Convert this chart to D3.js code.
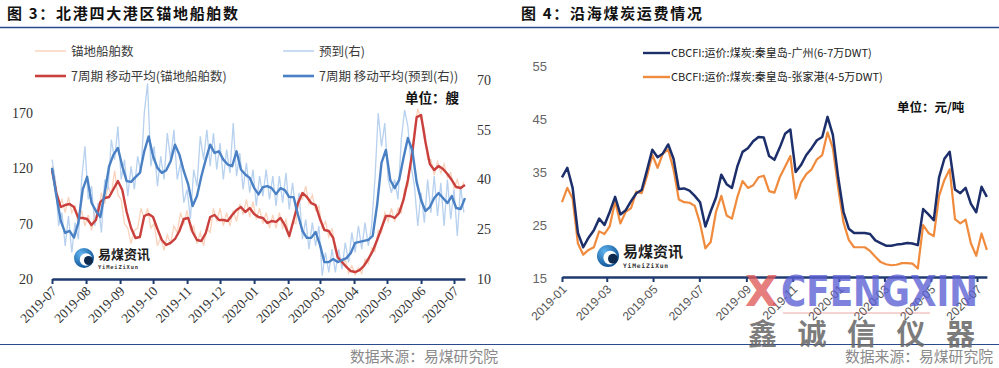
<!DOCTYPE html>
<html><head><meta charset="utf-8">
<script src="https://cdn.jsdelivr.net/npm/d3@7/dist/d3.min.js"></script>
<style>body{margin:0;background:#fff}svg{display:block}</style>
</head><body>
<svg id="c" width="999" height="368"></svg>
<script>
// ---------------- DATA: left chart (图3) ----------------
const leftStart = "2019-07-01";
const rawStepDays = 3;
const maStepDays = 4;
// 锚地船舶数 (left axis), every 3 days
const anchorRaw = [122,108,84,92,80,94,80,86,68,82,
68,78,64,80,80,98,88,104,96,118,
96,92,70,66,52,64,66,84,74,84,
66,70,50,58,46,60,52,68,62,80,
70,82,64,68,52,62,50,66,62,84,
72,84,68,80,68,82,72,88,78,92,
76,90,74,84,70,80,66,78,66,80,
66,74,56,72,70,94,92,104,88,96,
82,86,66,72,58,66,46,44,32,38,
25,32,24,30,25,38,34,48,45,64,
62,80,72,84,72,84,80,102,104,128,
156,174,164,156,128,128,114,126,116,124,
112,116,102,110,98,108];
// 预到 (right axis), every 3 days
const arrivalRaw = [46,40,26,30,20,29,18,27,22,40,
50,34,38,26,33,24,40,37,52,46,
56,40,46,35,44,37,47,42,60,69,
44,50,38,47,40,54,46,55,40,45,
33,37,28,43,38,53,46,55,44,54,
43,51,40,49,42,57,41,48,37,45,
36,43,32,41,35,43,34,41,32,41,
33,42,31,39,30,36,22,28,19,27,
20,26,11,18,12,19,12,19,13,21,
15,24,18,26,19,27,20,26,40,60,
50,57,40,36,40,34,52,61,56,44,
38,26,36,27,40,30,41,29,39,26,
40,28,37,23,38,30];
// 7周期 移动平均(锚地船舶数), every 4 days
const anchorMA = [118.6,97.8,85.1,86.9,87.8,85.1,75.2,75.2,74.3,68.8,
73.4,89.6,93.3,94.2,101.4,108.6,100.5,80.6,66.1,57.1,
58,77,78.8,76.1,65.2,55.3,50.8,52.6,56.2,63.4,
74.3,75.2,62.5,55.3,54.4,61.6,76.1,77.9,73.4,73.4,
72.5,77.9,82.4,85.1,80.6,84.2,78.8,76.1,75.2,70.6,
72.5,71.6,75.2,68.8,58.9,73.4,88.7,97.8,94.2,88.7,
86.9,74.3,64.3,63.4,57.1,39.9,35.4,30.9,27.2,26.3,
28.1,31.8,38.1,45.3,55.3,66.1,77,77,75.2,79.7,
91.5,109.5,134,166.5,168.3,143.9,124,118.6,122.2,119.5,
115,109.5,103.2,102.3,105];
// 7周期 移动平均(预到(右)), every 4 days
const arrivalMA = [43.5,35,27.5,23.9,24.5,22.5,27,37,40.8,33,
30.5,28.7,36,44,47.5,49.5,44,39.5,39.3,40.7,
42,48.5,53,47,43.5,42,42.8,45.5,50.5,47.5,
42.5,38.5,32,35,41,46,50.5,48,48.5,46,
44.5,44,48.5,43,41.5,40.5,37.5,35.5,37.7,38,
37.4,35.6,37.4,36.8,34.7,34.7,29.3,24.5,22.4,22.4,
24.2,20.3,15.1,15.1,16.0,15.1,15.7,16.3,17.8,20.9,
21.2,21.5,21.8,23,32.3,45,48.9,39.8,37.4,39.8,
46.5,52.5,48.9,39.2,33.8,30.5,31.7,34.4,35.9,34.4,
32.9,35,31.4,31.1,34.4];
const leftTicksL = [20,70,120,170];
const leftTicksR = [10,25,40,55,70];
const leftMonths = ["2019-07","2019-08","2019-09","2019-10","2019-11","2019-12","2020-01","2020-02","2020-03","2020-04","2020-05","2020-06","2020-07"];
const leftSeriesNames = ["锚地船舶数","预到(右)","7周期 移动平均(锚地船舶数)","7周期 移动平均(预到(右))"];

// ---------------- DATA: right chart (图4) ----------------
const rightStart = "2019-01-01";
const rightStepDays = 7;
const rateGuangzhou = [34.0,35.8,32.0,23.5,20.8,22.6,24.0,26.2,25.0,27.5,
30.3,27.0,27.8,29.5,31.0,31.6,35.3,39.2,37.8,38.5,
40.2,37.5,31.8,31.9,31.5,30.5,29.3,24.7,27.6,30.2,
34.5,32.7,32.0,36.0,38.8,39.5,40.8,41.6,41.5,38.0,
37.3,39.6,42.2,43.0,35.0,36.3,38.2,39.5,41.0,41.6,
45.4,42.0,34.0,27.5,24.3,23.5,23.5,23.5,23.3,22.1,
21.6,21.1,21.1,21.3,21.4,21.6,21.5,21.2,28.0,27.0,
25.9,34.0,37.5,38.8,31.7,31.0,32.0,29.0,27.4,32.2,30.3];
const rateZhangjiagang = [29.3,32.0,30.0,21.5,19.4,20.3,20.8,23.8,23.3,24.8,
29.5,25.3,27.5,28.2,31.3,31.0,34.2,38.2,35.8,38.5,
39.2,35.5,29.8,29.3,29.2,28.6,25.3,20.6,21.8,27.5,
30.5,26.8,26.2,30.2,33.3,32.0,32.5,34.0,34.3,31.4,
31.1,34.0,36.0,38.0,30.0,33.0,34.6,35.5,37.4,38.2,
42.5,39.5,32.0,25.5,22.2,20.8,20.8,20.8,20.1,19.0,
18.0,17.6,17.4,17.5,17.8,17.8,17.7,16.8,25.0,23.5,
22.9,30.5,33.5,35.5,26.1,25.3,26.0,21.5,19.2,23.4,20.3];
const rightTicks = [15,25,35,45,55];
const rightMonths = ["2019-01","2019-03","2019-05","2019-07","2019-09","2019-11","2020-01","2020-03","2020-05","2020-07"];
const rightSeriesNames = ["CBCFI:运价:煤炭:秦皇岛-广州(6-7万DWT)","CBCFI:运价:煤炭:秦皇岛-张家港(4-5万DWT)"];

// ---------------- DRAW ----------------
const svg = d3.select("#c");
const NAVY = "#1f3a6e";
const CJK = "'Noto Sans CJK SC','Noto Sans',sans-serif";
const parse = d3.timeParse("%Y-%m-%d");

// header / footer rules
svg.append("line").attr("x1",0).attr("x2",999).attr("y1",27.5).attr("y2",27.5).attr("stroke","#2b4a8b").attr("stroke-width",1.6);
svg.append("line").attr("x1",0).attr("x2",999).attr("y1",344.5).attr("y2",344.5).attr("stroke","#2b4a8b").attr("stroke-width",1.2);
svg.append("text").attr("x",7).attr("y",19).attr("font-family",CJK).attr("font-weight",700).attr("font-size",15).attr("letter-spacing",1.7).attr("fill","#111").text("图 3：北港四大港区锚地船舶数");
svg.append("text").attr("x",521).attr("y",19).attr("font-family",CJK).attr("font-weight",700).attr("font-size",15).attr("letter-spacing",1.7).attr("fill","#111").text("图 4：沿海煤炭运费情况");
svg.append("text").attr("x",498).attr("y",362).attr("text-anchor","end").attr("font-family",CJK).attr("font-size",14.8).attr("fill","#8a8a8a").text("数据来源：易煤研究院");
svg.append("text").attr("x",993).attr("y",362).attr("text-anchor","end").attr("font-family",CJK).attr("font-size",14.8).attr("fill","#8a8a8a").text("数据来源：易煤研究院");

function logo(g, cx, cy, r, fs){
  const defsId = "lg"+Math.round(cx);
  const grad = svg.append("defs").append("radialGradient").attr("id",defsId).attr("cx","35%").attr("cy","30%").attr("r","75%");
  grad.append("stop").attr("offset","0%").attr("stop-color","#5fb4ee");
  grad.append("stop").attr("offset","100%").attr("stop-color","#0b4f94");
  g.append("circle").attr("cx",cx).attr("cy",cy).attr("r",r).attr("fill",`url(#${defsId})`);
  g.append("circle").attr("cx",cx+r*0.2).attr("cy",cy+r*0.15).attr("r",r*0.62).attr("fill","#fff");
  g.append("circle").attr("cx",cx+r*0.45).attr("cy",cy+r*0.25).attr("r",r*0.45).attr("fill","#0e2a4e");
  g.append("text").attr("x",cx+r+4).attr("y",cy+1).attr("font-family",CJK).attr("font-weight",700).attr("font-size",fs).attr("fill","#1d1d1d").text("易煤资讯");
  g.append("text").attr("x",cx+r+4).attr("y",cy+r+1).attr("font-family","'DejaVu Sans Mono',monospace").attr("font-weight",700).attr("font-size",fs*0.42).attr("letter-spacing",0.8).attr("fill","#333").text("YiMeiZiXun");
}

// ===== LEFT CHART =====
{
  const start = parse(leftStart);
  const rawDates = anchorRaw.map((_,i)=>d3.timeDay.offset(start,i*rawStepDays));
  const maDates = anchorMA.map((_,i)=>d3.timeDay.offset(start,i*maStepDays));
  const end = d3.max([rawDates[rawDates.length-1], maDates[maDates.length-1]]);
  const x0 = d3.scaleTime().domain([start, parse("2020-07-01")]).range([52,454]);
  const x = d3.scaleTime().domain([start,end]).range([52,x0(end)]);
  const yL = d3.scaleLinear().domain([20,200]).range([279,80]);
  const yR = d3.scaleLinear().domain([10,70]).range([279,80]);

  const g = svg.append("g");
  const lineL = (dates)=>d3.line().x((d,i)=>x(dates[i])).y(d=>yL(d));
  const lineR = (dates)=>d3.line().x((d,i)=>x(dates[i])).y(d=>yR(d));
  g.append("path").datum(anchorRaw).attr("d",lineL(rawDates)).attr("fill","none").attr("stroke","#fad3bd").attr("stroke-width",1.3);
  g.append("path").datum(arrivalRaw).attr("d",lineR(rawDates)).attr("fill","none").attr("stroke","#b7d1ef").attr("stroke-width",1.3);
  g.append("path").datum(anchorMA).attr("d",lineL(maDates)).attr("fill","none").attr("stroke","#c9403d").attr("stroke-width",2.4).attr("stroke-linejoin","round");
  g.append("path").datum(arrivalMA).attr("d",lineR(maDates)).attr("fill","none").attr("stroke","#4a80c4").attr("stroke-width",2.4).attr("stroke-linejoin","round");

  // axes
  const gx = svg.append("g").attr("transform","translate(0,279)")
    .call(d3.axisBottom(x).tickValues(leftMonths.map(m=>parse(m+"-01"))).tickSize(5).tickSizeOuter(0).tickFormat(d3.timeFormat("%Y-%m")));
  gx.attr("font-family","'Liberation Serif',serif").attr("font-size",13.5);
  gx.select(".domain").attr("stroke",NAVY).attr("stroke-width",2.6);
  gx.selectAll(".tick line").attr("stroke",NAVY).attr("stroke-width",2);
  gx.selectAll(".tick text").attr("x",0).attr("y",0).attr("dy",null).attr("text-anchor","end").attr("fill","#333").attr("transform","translate(5,13) rotate(-45)");

  const gyl = svg.append("g").attr("transform","translate(33,0)").call(d3.axisLeft(yL).tickValues(leftTicksL).tickSize(0).tickPadding(0));
  gyl.select(".domain").remove();
  gyl.attr("font-family","'Liberation Serif',serif").attr("font-size",14);
  gyl.selectAll("text").attr("fill","#333");
  const gyr = svg.append("g").attr("transform","translate(477,0)").call(d3.axisRight(yR).tickValues(leftTicksR).tickSize(0).tickPadding(0));
  gyr.select(".domain").remove();
  gyr.attr("font-family","'Liberation Serif',serif").attr("font-size",14);
  gyr.selectAll("text").attr("fill","#333");

  // legend
  const leg = svg.append("g").attr("font-family",CJK).attr("font-size",12.5).attr("fill","#3a3a3a");
  const items = [
    {n:leftSeriesNames[0], c:"#fad3bd", w:1.5, x:35, y:51},
    {n:leftSeriesNames[1], c:"#b7d1ef", w:1.5, x:283, y:51},
    {n:leftSeriesNames[2], c:"#c9403d", w:2.6, x:35, y:76},
    {n:leftSeriesNames[3], c:"#4a80c4", w:2.6, x:283, y:76}
  ];
  items.forEach(it=>{
    leg.append("line").attr("x1",it.x).attr("x2",it.x+31).attr("y1",it.y).attr("y2",it.y).attr("stroke",it.c).attr("stroke-width",it.w);
    leg.append("text").attr("x",it.x+36).attr("y",it.y+4.5).text(it.n);
  });
  svg.append("text").attr("x",405).attr("y",103).attr("font-family",CJK).attr("font-weight",700).attr("font-size",13.5).attr("fill","#111").text("单位：艘");
  logo(svg.append("g"), 84, 258, 10, 13);
}

// ===== RIGHT CHART =====
{
  const start = parse(rightStart);
  const dates = rateGuangzhou.map((_,i)=>d3.timeDay.offset(start,i*rightStepDays));
  const end = dates[dates.length-1];
  const x0 = d3.scaleTime().domain([start, parse("2020-07-01")]).range([562,977]);
  const x = d3.scaleTime().domain([start,end]).range([562,x0(end)]);
  const y = d3.scaleLinear().domain([15,55]).range([278,66]);
  const line = d3.line().x((d,i)=>x(dates[i])).y(d=>y(d));
  svg.append("path").datum(rateZhangjiagang).attr("d",line).attr("fill","none").attr("stroke","#f08a3c").attr("stroke-width",2.2).attr("stroke-linejoin","round");
  svg.append("path").datum(rateGuangzhou).attr("d",line).attr("fill","none").attr("stroke","#1c2f6b").attr("stroke-width",2.5).attr("stroke-linejoin","round");

  const gx = svg.append("g").attr("transform","translate(0,277)")
    .call(d3.axisBottom(x).tickValues(rightMonths.map(m=>parse(m+"-01"))).tickSize(5).tickSizeOuter(0).tickFormat(d3.timeFormat("%Y-%m")));
  gx.attr("font-family","'Liberation Sans',sans-serif").attr("font-size",12);
  gx.select(".domain").attr("stroke",NAVY).attr("stroke-width",2.6);
  gx.selectAll(".tick line").attr("stroke",NAVY).attr("stroke-width",2);
  gx.selectAll(".tick text").attr("x",0).attr("y",0).attr("dy",null).attr("text-anchor","end").attr("fill","#555").attr("transform","translate(5,13) rotate(-45)");

  const gy = svg.append("g").attr("transform","translate(547,0)").call(d3.axisLeft(y).tickValues(rightTicks).tickSize(0).tickPadding(0));
  gy.select(".domain").remove();
  gy.attr("font-family","'Liberation Sans',sans-serif").attr("font-size",13);
  gy.selectAll("text").attr("fill","#666");

  const leg = svg.append("g").attr("font-family",CJK).attr("font-size",11).attr("fill","#222");
  [{n:rightSeriesNames[0],c:"#1c2f6b",y:53},{n:rightSeriesNames[1],c:"#f08a3c",y:77}].forEach(it=>{
    leg.append("line").attr("x1",643).attr("x2",670).attr("y1",it.y).attr("y2",it.y).attr("stroke",it.c).attr("stroke-width",2.4);
    leg.append("text").attr("x",671).attr("y",it.y+4).text(it.n);
  });
  svg.append("text").attr("x",897).attr("y",112).attr("font-family",CJK).attr("font-weight",700).attr("font-size",12.5).attr("fill","#111").text("单位：元/吨");
  logo(svg.append("g"), 608, 256, 11, 15);
}

// ===== watermark =====
{
  const w = svg.append("g");
  w.append("line").attr("x1",783).attr("x2",930).attr("y1",313).attr("y2",313).attr("stroke","#e07070").attr("stroke-width",1).attr("opacity",0.6);
  w.append("text").attr("x",745).attr("y",306).attr("font-family","'DejaVu Sans',sans-serif").attr("font-weight",700).attr("font-size",42).attr("fill","#e05a5a").attr("opacity",0.78).attr("textLength",33).attr("lengthAdjust","spacingAndGlyphs").text("X");
  w.append("text").attr("x",781).attr("y",306).attr("font-family","'DejaVu Sans',sans-serif").attr("font-weight",700).attr("font-size",42).attr("fill","#5a5fd4").attr("opacity",0.78).attr("textLength",197).attr("lengthAdjust","spacingAndGlyphs").text("CFENGXIN");
  w.append("text").attr("x",748).attr("y",345).attr("font-family",CJK).attr("font-weight",700).attr("font-size",29).attr("letter-spacing",20.5).attr("fill","#666").attr("opacity",0.85).text("鑫诚信仪器");
}
</script>
</body></html>
